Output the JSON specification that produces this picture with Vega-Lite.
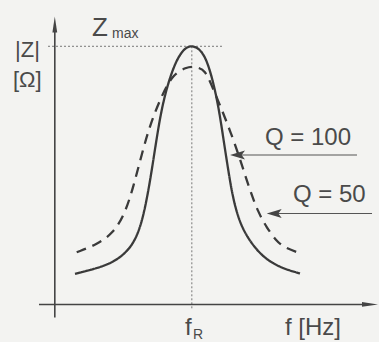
{
  "$schema": "https://vega.github.io/schema/vega-lite/v6.json",
  "width": 379,
  "height": 342,
  "autosize": {"type": "fit", "contains": "padding"},
  "padding": 0,
  "background": "#f3f3f1",
  "config": {"view": {"stroke": null}, "text": {"font": "Liberation Sans"}},
  "datasets": {
    "curves": [
      {"q": "100", "f": 7.37, "z": 11.83}, {"q": "100", "f": 14.05, "z": 13.63}, {"q": "100", "f": 21.35, "z": 16.15},
      {"q": "100", "f": 27.44, "z": 21.26}, {"q": "100", "f": 31.09, "z": 28.89}, {"q": "100", "f": 33.53, "z": 40.34},
      {"q": "100", "f": 35.36, "z": 51.79}, {"q": "100", "f": 37.18, "z": 64.5}, {"q": "100", "f": 39.01, "z": 75.95},
      {"q": "100", "f": 41.42, "z": 86.15}, {"q": "100", "f": 44.48, "z": 95.04}, {"q": "100", "f": 47.51, "z": 99.5},
      {"q": "100", "f": 50, "z": 100.2}, {"q": "100", "f": 52.25, "z": 99.43}, {"q": "100", "f": 54.81, "z": 96.3},
      {"q": "100", "f": 57.25, "z": 88.66}, {"q": "100", "f": 59.66, "z": 77.21}, {"q": "100", "f": 61.48, "z": 64.5},
      {"q": "100", "f": 63.31, "z": 51.8}, {"q": "100", "f": 65.13, "z": 40.34}, {"q": "100", "f": 67.9, "z": 30.2},
      {"q": "100", "f": 72.43, "z": 22.5}, {"q": "100", "f": 77.32, "z": 17.18}, {"q": "100", "f": 83.38, "z": 13.85},
      {"q": "100", "f": 89.47, "z": 12.02},
      {"q": "50", "f": 7.99, "z": 20.23}, {"q": "50", "f": 15.29, "z": 23.17}, {"q": "50", "f": 21.35, "z": 27.6},
      {"q": "50", "f": 25.61, "z": 35.24}, {"q": "50", "f": 28.64, "z": 45.42}, {"q": "50", "f": 31.71, "z": 58.13},
      {"q": "50", "f": 34.74, "z": 69.58}, {"q": "50", "f": 39.01, "z": 81.03}, {"q": "50", "f": 43.24, "z": 89.31},
      {"q": "50", "f": 48.13, "z": 91.87}, {"q": "50", "f": 50, "z": 92.18}, {"q": "50", "f": 52.36, "z": 91.79},
      {"q": "50", "f": 54.81, "z": 90.57}, {"q": "50", "f": 57.0, "z": 85.5}, {"q": "50", "f": 60.28, "z": 77.21},
      {"q": "50", "f": 64.55, "z": 65.76}, {"q": "50", "f": 68.2, "z": 54.31}, {"q": "50", "f": 71.23, "z": 44.16},
      {"q": "50", "f": 74.15, "z": 35.88}, {"q": "50", "f": 77.32, "z": 29.77}, {"q": "50", "f": 80.97, "z": 24.43},
      {"q": "50", "f": 84.0, "z": 21.87}, {"q": "50", "f": 90.09, "z": 19.66}
    ],
    "axes": [
      {"f": 0, "z": -5, "f2": 0, "z2": 106},
      {"f": -5.77, "z": 0, "f2": 113, "z2": 0}
    ],
    "guides": [
      {"f": -2.48, "z": 100, "f2": 61, "z2": 100},
      {"f": 50, "z": 100, "f2": 50, "z2": -2}
    ],
    "pointers": [
      {"f": 67.5, "z": 57.9, "f2": 110.27, "z2": 57.9},
      {"f": 81.0, "z": 35.23, "f2": 115.75, "z2": 35.23}
    ],
    "upHead": [{"f": 0, "z": 108.4}],
    "rightHead": [{"f": 115.02, "z": 0}],
    "leftHeads": [{"f": 66.67, "z": 57.9}, {"f": 80.06, "z": 35.23}],
    "bigText": [
      {"t": "Q = 100", "f": 76.7, "z": 61.95},
      {"t": "Q = 50", "f": 86.92, "z": 39.69},
      {"t": "f [Hz]", "f": 84.0, "z": -11.83},
      {"t": "f", "f": 47.51, "z": -11.83}
    ],
    "unitText": [
      {"t": "|Z|", "f": -14.53, "z": 95.8},
      {"t": "[Ω]", "f": -15.26, "z": 84.2}
    ],
    "zText": [
      {"t": "Z", "f": 13.57, "z": 103.8}
    ],
    "subText": [
      {"t": "max", "f": 20.87, "z": 103.1},
      {"t": "R", "f": 50.43, "z": -13.3}
    ]
  },
  "encoding": {
    "x": {"field": "f", "type": "quantitative", "scale": {"domain": [-20, 118.3], "nice": false, "zero": false}, "axis": null},
    "y": {"field": "z", "type": "quantitative", "scale": {"domain": [-12.6, 117.93], "nice": false, "zero": false}, "axis": null}
  },
  "layer": [
    {
      "data": {"name": "guides"},
      "mark": {"type": "rule", "color": "#777777", "strokeWidth": 1, "strokeDash": [2, 2]},
      "encoding": {"x2": {"field": "f2"}, "y2": {"field": "z2"}}
    },
    {
      "data": {"name": "axes"},
      "mark": {"type": "rule", "color": "#444444", "strokeWidth": 1.6},
      "encoding": {"x2": {"field": "f2"}, "y2": {"field": "z2"}}
    },
    {
      "data": {"name": "pointers"},
      "mark": {"type": "rule", "color": "#555555", "strokeWidth": 1.2},
      "encoding": {"x2": {"field": "f2"}, "y2": {"field": "z2"}}
    },
    {
      "data": {"name": "curves"},
      "mark": {"type": "line", "color": "#3a3a3a", "strokeWidth": 2.3, "interpolate": "basis"},
      "encoding": {
        "strokeDash": {"field": "q", "type": "nominal", "scale": {"domain": ["100", "50"], "range": [[1, 0], [10, 7]]}, "legend": null}
      }
    },
    {
      "data": {"name": "upHead"},
      "mark": {"type": "point", "shape": "M0,-1L0.3,1L-0.3,1Z", "size": 256, "filled": true, "opacity": 1, "color": "#444444"}
    },
    {
      "data": {"name": "rightHead"},
      "mark": {"type": "point", "shape": "M1,0L-1,-0.3L-1,0.3Z", "size": 256, "filled": true, "opacity": 1, "color": "#444444"}
    },
    {
      "data": {"name": "leftHeads"},
      "mark": {"type": "point", "shape": "M-1,0L1,-0.6L0.55,0L1,0.6Z", "size": 225, "filled": true, "opacity": 1, "color": "#444444"}
    },
    {
      "data": {"name": "bigText"},
      "mark": {"type": "text", "align": "left", "baseline": "alphabetic", "fontSize": 24, "color": "#4a4a4a"},
      "encoding": {"text": {"field": "t"}}
    },
    {
      "data": {"name": "unitText"},
      "mark": {"type": "text", "align": "left", "baseline": "alphabetic", "fontSize": 22, "color": "#4a4a4a"},
      "encoding": {"text": {"field": "t"}}
    },
    {
      "data": {"name": "zText"},
      "mark": {"type": "text", "align": "left", "baseline": "alphabetic", "fontSize": 26, "color": "#4a4a4a"},
      "encoding": {"text": {"field": "t"}}
    },
    {
      "data": {"name": "subText"},
      "mark": {"type": "text", "align": "left", "baseline": "alphabetic", "fontSize": 14, "color": "#4a4a4a"},
      "encoding": {"text": {"field": "t"}}
    }
  ]
}
